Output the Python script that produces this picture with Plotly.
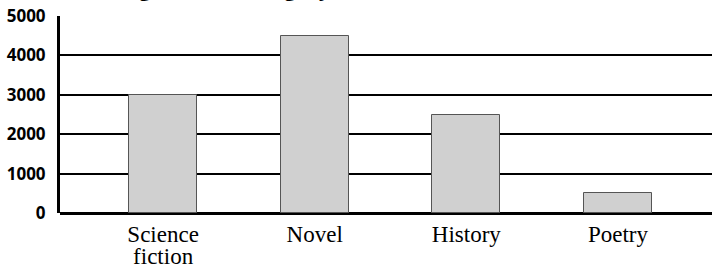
import plotly.graph_objects as go

categories = ["Science<br>fiction", "Novel", "History", "Poetry"]
values = [3000, 4500, 2500, 500]
y_ticks = [0, 1000, 2000, 3000, 4000, 5000]
title_text = "Borrowing in Each Category"

span_open = '<span style="font-size:23px">'
tick_text = [span_open + c.replace("<br>", "</span><br>" + span_open) + "</span>" for c in categories]

fig = go.Figure(go.Bar(
    x=list(range(len(categories))), y=values,
    width=0.448,
    marker=dict(color="#d0d0d0", line=dict(color="#555555", width=1)),
))

fig.update_layout(
    width=712, height=264,
    margin=dict(l=60, r=0, t=16, b=51),
    paper_bgcolor="white", plot_bgcolor="white",
    showlegend=False,
    bargap=0,
)
fig.update_xaxes(
    tickmode="array", tickvals=list(range(len(categories))), ticktext=tick_text,
    range=[-0.68, 3.62], showgrid=False, showline=False, zeroline=False,
    tickfont=dict(family="Times New Roman, Liberation Serif, serif", size=17, color="black"),
    ticks="", automargin=False, ticklabelstandoff=11,
)
fig.update_yaxes(
    range=[0, 5000], tickvals=y_ticks, showgrid=True, gridcolor="black", gridwidth=2,
    showline=True, linecolor="black", linewidth=3, zeroline=True, zerolinecolor="black",
    zerolinewidth=3,
    tickfont=dict(family="Open Sans", size=17, color="black", weight="bold"),
    ticks="", ticklabelstandoff=8, automargin=False,
)
fig.add_annotation(
    text=title_text, xref="paper", yref="paper", x=-0.031, y=1.062,
    xanchor="left", yanchor="bottom", showarrow=False,
    font=dict(family="Open Sans", size=21, color="black", weight="bold"),
)

fig.write_html("out.html", config={"displayModeBar": False},
               post_script="document.body.style.margin='0';")
